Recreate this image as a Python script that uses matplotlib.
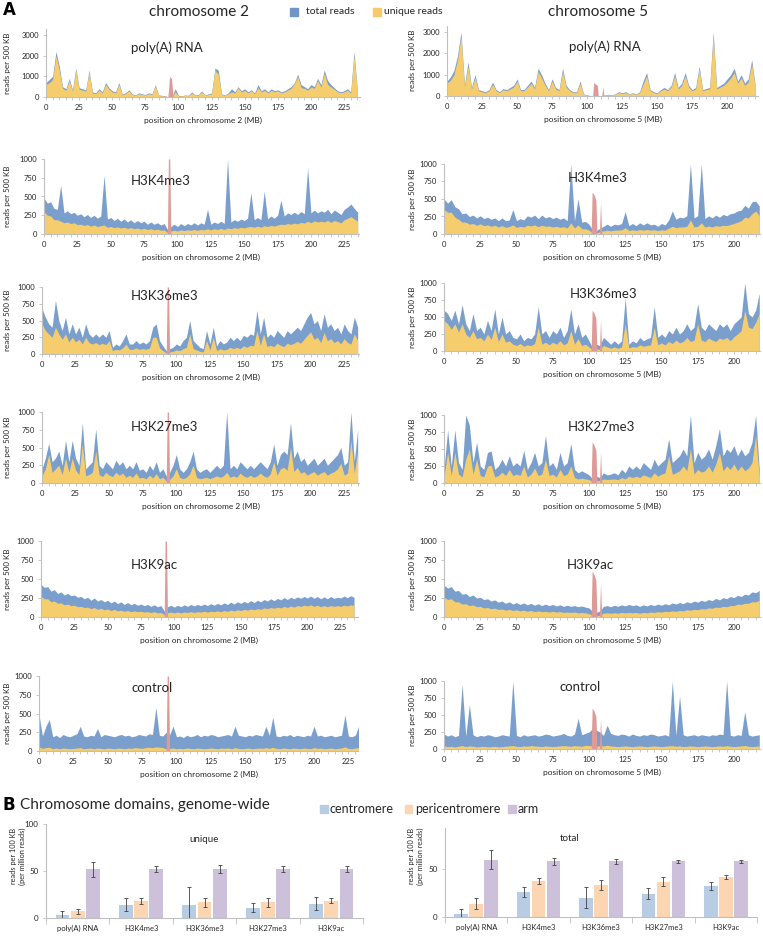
import matplotlib.pyplot as plt
from matplotlib.patches import Rectangle
import numpy as np

plt.rcParams['font.family'] = ['Lato', 'DejaVu Sans']

W, H = 763, 938
BIN = 2.5  # MB covered by each track value

BLUE = '#7b9fcc'
YELLOW = '#f6cd6c'
PINK = '#dd9a96'
CEN = '#b8cce4'
PERI = '#fcd5b2'
ARM = '#ccc0da'
AXIS = '#bfbfbf'
TXT = '#262626'

marks = ['poly(A) RNA', 'H3K4me3', 'H3K36me3', 'H3K27me3', 'H3K9ac', 'control']

# ---- chromosome 2: reads per 500 KB, one value every 2.5 MB
chr2_polya_total = [700, 850, 1000, 2200, 1500, 500, 400, 900, 350, 1400,
                    450, 400, 350, 1300, 250, 200, 400, 250, 700, 450,
                    300, 250, 700, 150, 200, 350, 150, 100, 200, 150,
                    120, 200, 150, 600, 100, 80, 60, 0, 20, 400,
                    80, 60, 100, 80, 250, 100, 120, 300, 100, 150,
                    200, 1400, 1300, 150, 100, 200, 400, 250, 500, 300,
                    400, 250, 350, 200, 600, 300, 400, 250, 400, 300,
                    350, 250, 300, 400, 500, 700, 1100, 600, 500, 400,
                    600, 500, 900, 600, 1300, 800, 600, 450, 300, 250,
                    300, 400, 250, 2200, 300]
chr2_polya_unique = [600, 700, 850, 2000, 1300, 420, 330, 800, 290, 1300,
                     380, 330, 290, 1200, 200, 160, 330, 200, 600, 380,
                     250, 200, 620, 120, 160, 300, 120, 80, 160, 120,
                     100, 160, 120, 550, 80, 60, 45, 0, 15, 250,
                     60, 45, 80, 60, 200, 80, 100, 250, 80, 120,
                     160, 1300, 1100, 120, 80, 160, 250, 200, 450, 240,
                     320, 200, 300, 160, 450, 250, 320, 200, 320, 250,
                     300, 200, 250, 330, 420, 650, 1000, 450, 420, 330,
                     480, 420, 800, 480, 1150, 620, 480, 380, 250, 200,
                     250, 330, 200, 2000, 250]
chr2_k4_total = [480, 410, 430, 340, 330, 650, 280, 310, 270, 290,
                 250, 270, 230, 260, 220, 250, 210, 240, 780, 200,
                 220, 180, 210, 170, 200, 160, 190, 150, 180, 150,
                 170, 130, 160, 130, 150, 120, 140, 60, 100, 130,
                 100, 140, 110, 140, 120, 150, 120, 150, 130, 330,
                 130, 160, 140, 170, 140, 1000, 160, 190, 170, 200,
                 180, 210, 550, 190, 220, 190, 570, 200, 240, 210,
                 250, 450, 240, 280, 260, 290, 260, 300, 270, 880,
                 280, 320, 280, 310, 290, 330, 270, 320, 290, 260,
                 330, 360, 400, 340, 290]
chr2_k4_unique = [300, 250, 240, 190, 190, 170, 150, 160, 140, 150,
                  125, 130, 115, 125, 105, 120, 100, 110, 120, 90,
                  100, 85, 95, 80, 90, 75, 85, 70, 80, 65,
                  75, 60, 70, 55, 65, 50, 55, 20, 40, 50,
                  40, 55, 45, 55, 50, 60, 50, 60, 55, 70,
                  55, 70, 60, 75, 60, 80, 70, 85, 75, 90,
                  80, 95, 100, 90, 105, 90, 110, 100, 115, 105,
                  120, 130, 125, 140, 130, 145, 135, 155, 145, 170,
                  150, 175, 160, 170, 160, 180, 155, 180, 165, 150,
                  190, 210, 230, 200, 170]
chr2_k36_total = [680, 550, 450, 400, 800, 500, 350, 550, 300, 450,
                  300, 400, 250, 450, 300, 250, 300, 250, 300, 250,
                  350, 100, 150, 120, 200, 300, 150, 150, 200, 150,
                  180, 150, 200, 400, 450, 200, 120, 50, 80, 100,
                  150, 120, 200, 250, 500, 200, 150, 100, 80, 350,
                  150, 400, 120, 200, 150, 180, 250, 200, 250, 200,
                  280, 250, 300, 280, 650, 300, 550, 250, 300, 250,
                  350, 300, 250, 350, 300, 350, 400, 350, 450, 550,
                  620, 450, 500, 350, 600, 400, 450, 350, 400, 300,
                  450, 350, 300, 550, 400]
chr2_k36_unique = [450, 350, 300, 250, 400, 300, 220, 300, 180, 250,
                   180, 220, 150, 250, 170, 150, 170, 140, 160, 140,
                   200, 50, 70, 60, 90, 150, 70, 70, 90, 70,
                   80, 70, 90, 250, 250, 90, 50, 20, 30, 40,
                   60, 50, 80, 100, 300, 80, 60, 40, 30, 200,
                   60, 250, 50, 80, 60, 70, 100, 80, 100, 80,
                   120, 100, 130, 120, 350, 130, 300, 110, 130, 110,
                   160, 130, 110, 160, 140, 160, 190, 160, 220, 280,
                   330, 220, 250, 170, 320, 200, 230, 170, 200, 150,
                   230, 170, 150, 300, 200]
chr2_k27_total = [200, 350, 560, 300, 350, 450, 250, 600, 300, 600,
                  350, 250, 850, 200, 250, 300, 760, 250, 200, 300,
                  250, 200, 320, 250, 300, 200, 250, 200, 300, 180,
                  200, 150, 250, 180, 300, 150, 200, 100, 150, 250,
                  400, 200, 150, 200, 300, 450, 200, 150, 180, 200,
                  150, 200, 250, 200, 250, 1000, 200, 250, 200, 300,
                  250, 200, 250, 200, 250, 300, 250, 200, 300, 550,
                  250, 400, 450, 400, 850, 350, 450, 300, 350, 250,
                  300, 350, 250, 300, 350, 250, 300, 350, 400, 500,
                  250, 300, 1000, 300, 750]
chr2_k27_unique = [100, 200, 400, 150, 200, 250, 120, 350, 150, 350,
                   180, 120, 550, 100, 120, 150, 450, 120, 90, 150,
                   110, 90, 150, 110, 140, 80, 110, 80, 140, 70,
                   80, 60, 110, 70, 130, 60, 80, 30, 50, 100,
                   200, 80, 60, 80, 130, 250, 80, 60, 70, 80,
                   60, 80, 100, 80, 100, 150, 80, 100, 80, 140,
                   100, 80, 110, 80, 100, 140, 100, 80, 130, 300,
                   110, 200, 220, 180, 500, 160, 220, 140, 160, 110,
                   140, 160, 110, 140, 160, 110, 140, 160, 200, 280,
                   110, 140, 600, 140, 450]
chr2_k9_total = [430, 390, 400, 340, 360, 310, 330, 290, 310, 280,
                 290, 260, 270, 240, 260, 220, 250, 210, 230, 200,
                 220, 185, 210, 175, 200, 165, 190, 160, 180, 155,
                 170, 150, 165, 140, 160, 135, 150, 80, 135, 155,
                 130, 155, 135, 160, 140, 165, 145, 165, 150, 170,
                 150, 175, 155, 180, 160, 185, 165, 195, 170, 200,
                 180, 205, 185, 215, 190, 220, 200, 230, 210, 240,
                 215, 245, 225, 255, 230, 260, 240, 265, 245, 270,
                 250, 275, 245, 270, 240, 265, 240, 270, 245, 260,
                 250, 275, 255, 280, 260]
chr2_k9_unique = [270, 240, 240, 200, 210, 180, 185, 160, 170, 150,
                  155, 135, 140, 125, 130, 110, 125, 100, 115, 95,
                  105, 85, 100, 80, 90, 75, 85, 70, 80, 70,
                  75, 65, 70, 60, 70, 55, 60, 30, 55, 65,
                  55, 65, 55, 65, 60, 70, 60, 70, 65, 75,
                  65, 75, 70, 80, 70, 85, 75, 90, 80, 95,
                  85, 100, 90, 105, 95, 110, 100, 120, 110, 125,
                  115, 130, 120, 140, 125, 145, 130, 150, 140, 155,
                  145, 160, 140, 155, 135, 150, 135, 150, 140, 150,
                  140, 155, 145, 160, 150]
chr2_ctrl_total = [480, 200, 330, 420, 190, 210, 180, 220, 200, 190,
                   210, 230, 330, 200, 190, 210, 200, 300, 190, 220,
                   210, 200, 190, 210, 220, 200, 210, 190, 200, 220,
                   210, 200, 230, 220, 580, 210, 200, 250, 220, 330,
                   190, 200, 180, 210, 190, 200, 220, 190, 210, 200,
                   220, 210, 190, 200, 210, 220, 200, 330, 210, 200,
                   190, 210, 200, 220, 210, 200, 330, 210, 450, 200,
                   190, 210, 200, 220, 190, 210, 200, 190, 210, 200,
                   330, 200, 210, 190, 200, 210, 190, 200, 210, 480,
                   200, 190, 210, 330, 190]
chr2_ctrl_unique = [55, 35, 45, 50, 30, 40, 30, 40, 35, 30,
                    35, 40, 45, 30, 35, 40, 30, 40, 35, 30,
                    40, 35, 30, 40, 35, 30, 40, 35, 45, 40,
                    35, 45, 50, 45, 55, 50, 45, 30, 35, 40,
                    30, 35, 30, 40, 35, 30, 40, 35, 30, 35,
                    40, 35, 30, 40, 35, 40, 30, 45, 35, 30,
                    35, 40, 30, 35, 40, 35, 45, 35, 50, 35,
                    30, 40, 35, 30, 40, 35, 30, 40, 35, 30,
                    45, 35, 40, 30, 35, 40, 30, 35, 40, 55,
                    35, 30, 40, 45, 30]

# ---- chromosome 5: reads per 500 KB, one value every 2.5 MB
chr5_polya_total = [700, 900, 1200, 1900, 3000, 500, 1600, 400, 1000, 300,
                    250, 200, 300, 650, 300, 200, 350, 300, 400, 500,
                    800, 300, 300, 500, 700, 400, 1300, 1000, 600, 300,
                    800, 400, 300, 1300, 500, 300, 200, 200, 700, 100,
                    50, 20, 10, 10, 20, 50, 80, 50, 100, 200,
                    150, 200, 100, 150, 100, 200, 700, 1100, 300, 200,
                    150, 300, 400, 300, 500, 1100, 400, 600, 1100, 500,
                    300, 400, 1400, 300, 350, 400, 3000, 400, 500, 600,
                    800, 1000, 1300, 700, 1000, 600, 800, 1700, 500]
chr5_polya_unique = [600, 750, 1000, 1700, 2800, 420, 1400, 330, 850, 250,
                     200, 160, 250, 550, 250, 160, 300, 250, 330, 420,
                     700, 250, 250, 420, 600, 330, 1150, 850, 500, 250,
                     700, 330, 250, 1150, 420, 250, 160, 160, 600, 80,
                     40, 15, 5, 5, 15, 40, 60, 40, 80, 160,
                     120, 160, 80, 120, 80, 160, 550, 950, 250, 160,
                     120, 250, 330, 250, 420, 950, 330, 500, 950, 420,
                     250, 330, 1250, 250, 300, 330, 2800, 330, 420, 500,
                     650, 850, 1100, 600, 850, 500, 650, 1500, 420]
chr5_k4_total = [500, 440, 490, 390, 360, 290, 300, 250, 270, 230,
                 260, 220, 240, 210, 230, 190, 230, 190, 200, 350,
                 190, 220, 200, 260, 240, 270, 220, 270, 230, 250,
                 220, 240, 210, 230, 190, 1000, 190, 500, 170, 180,
                 140, 60, 50, 80, 110, 140, 110, 140, 130, 150,
                 320, 120, 150, 120, 160, 130, 160, 130, 140, 110,
                 150, 130, 200, 330, 210, 240, 230, 260, 1000, 230,
                 260, 1000, 220, 260, 230, 270, 240, 280, 260, 290,
                 300, 330, 340, 410, 370, 460, 470, 400]
chr5_k4_unique = [350, 310, 310, 240, 210, 170, 170, 140, 150, 125,
                  145, 120, 130, 110, 125, 100, 120, 95, 105, 130,
                  95, 110, 100, 125, 115, 130, 105, 125, 110, 115,
                  100, 110, 95, 105, 85, 160, 85, 130, 75, 75,
                  55, 20, 15, 30, 45, 55, 45, 55, 55, 60,
                  90, 50, 60, 50, 65, 55, 65, 55, 60, 50,
                  60, 55, 85, 110, 90, 100, 100, 110, 200, 100,
                  110, 160, 100, 115, 100, 120, 110, 125, 120, 135,
                  150, 170, 190, 240, 230, 290, 330, 260]
chr5_k36_total = [600, 550, 450, 600, 400, 680, 400, 300, 550, 300,
                  350, 250, 450, 300, 620, 250, 500, 250, 300, 200,
                  180, 250, 150, 200, 180, 250, 650, 250, 300, 200,
                  300, 250, 350, 200, 300, 620, 250, 400, 200, 250,
                  150, 50, 100, 80, 200, 150, 100, 150, 100, 150,
                  780, 100, 150, 120, 200, 150, 180, 200, 650, 200,
                  250, 200, 300, 250, 350, 250, 300, 400, 300, 350,
                  700, 350, 300, 400, 350, 300, 400, 350, 400, 300,
                  400, 450, 500, 1000, 550, 500, 600, 850]
chr5_k36_unique = [450, 400, 320, 400, 280, 400, 250, 200, 300, 180,
                   200, 150, 250, 170, 350, 140, 250, 130, 150, 100,
                   80, 110, 70, 90, 80, 110, 350, 100, 130, 90,
                   130, 100, 150, 90, 120, 300, 100, 180, 80, 100,
                   60, 15, 30, 25, 80, 60, 40, 60, 40, 60,
                   400, 45, 65, 55, 90, 70, 80, 90, 350, 90,
                   120, 90, 140, 110, 160, 120, 140, 200, 140, 160,
                   400, 160, 140, 190, 160, 140, 190, 170, 200, 150,
                   210, 250, 300, 600, 350, 330, 420, 550]
chr5_k27_total = [200, 780, 250, 780, 300, 200, 1000, 850, 300, 600,
                  250, 200, 450, 470, 200, 250, 350, 250, 400, 250,
                  300, 250, 480, 200, 300, 450, 250, 300, 700, 250,
                  300, 200, 450, 250, 300, 580, 200, 150, 180, 150,
                  120, 60, 100, 80, 150, 120, 130, 150, 120, 200,
                  150, 250, 200, 250, 200, 300, 250, 200, 350, 250,
                  300, 350, 650, 300, 350, 400, 500, 400, 1000, 300,
                  450, 350, 400, 500, 350, 550, 800, 400, 500, 450,
                  550, 400, 500, 400, 450, 600, 1000, 200]
chr5_k27_unique = [90, 450, 110, 450, 130, 90, 350, 500, 130, 350,
                   110, 90, 250, 260, 90, 110, 160, 110, 200, 110,
                   130, 110, 250, 90, 130, 220, 110, 130, 350, 110,
                   130, 90, 200, 110, 130, 250, 80, 60, 70, 60,
                   50, 20, 40, 30, 60, 50, 55, 60, 50, 80,
                   60, 100, 80, 100, 80, 120, 100, 80, 150, 100,
                   130, 150, 400, 130, 150, 180, 250, 180, 500, 130,
                   200, 160, 180, 250, 160, 280, 450, 180, 250, 200,
                   280, 180, 250, 180, 220, 300, 700, 90]
chr5_k9_total = [420, 380, 400, 340, 350, 300, 310, 270, 290, 250,
                 260, 230, 240, 210, 225, 195, 210, 180, 200, 170,
                 190, 165, 185, 160, 180, 155, 175, 150, 170, 150,
                 165, 145, 160, 140, 155, 140, 150, 135, 145, 130,
                 120, 70, 60, 80, 140, 150, 135, 155, 140, 160,
                 145, 165, 150, 160, 140, 160, 145, 165, 150, 170,
                 155, 175, 160, 185, 170, 190, 175, 200, 185, 210,
                 195, 220, 205, 230, 215, 245, 225, 255, 240, 270,
                 255, 285, 270, 300, 290, 330, 320, 350]
chr5_k9_unique = [260, 230, 240, 200, 200, 170, 175, 150, 160, 135,
                  140, 120, 125, 110, 115, 100, 105, 90, 100, 85,
                  95, 80, 90, 75, 85, 70, 80, 70, 75, 65,
                  75, 65, 70, 60, 65, 60, 65, 55, 60, 55,
                  45, 20, 15, 25, 50, 55, 50, 55, 50, 60,
                  55, 60, 55, 60, 50, 60, 55, 65, 60, 70,
                  65, 75, 70, 80, 75, 85, 80, 95, 90, 100,
                  95, 110, 105, 120, 115, 130, 125, 140, 135, 150,
                  150, 170, 165, 180, 180, 200, 200, 220]
chr5_ctrl_total = [220, 190, 210, 180, 200, 950, 190, 650, 210, 180,
                   200, 190, 210, 200, 180, 190, 210, 200, 190, 1000,
                   200, 180, 210, 190, 200, 210, 190, 200, 220, 210,
                   190, 200, 210, 230, 200, 190, 220, 450, 210, 230,
                   250, 300, 280, 250, 200, 350, 230, 210, 200, 220,
                   210, 190, 220, 200, 190, 210, 200, 220, 210, 190,
                   200, 210, 190, 1000, 200, 780, 210, 190, 200, 210,
                   190, 210, 200, 190, 210, 200, 220, 210, 1000, 200,
                   190, 210, 200, 550, 210, 190, 200, 210]
chr5_ctrl_unique = [45, 35, 40, 30, 40, 50, 35, 45, 40, 30,
                    35, 40, 30, 35, 40, 30, 35, 40, 45, 50,
                    40, 35, 45, 40, 50, 45, 40, 35, 45, 40,
                    35, 40, 45, 50, 45, 40, 50, 45, 40, 55,
                    50, 45, 40, 50, 45, 55, 45, 40, 35, 40,
                    45, 40, 35, 40, 45, 40, 35, 40, 45, 40,
                    35, 40, 45, 50, 40, 45, 35, 40, 45, 40,
                    35, 40, 45, 40, 35, 40, 45, 40, 50, 40,
                    35, 40, 45, 50, 40, 35, 40, 45]

# centromere reads (pink), position in MB and reads per 500 KB
chr2_cen_polya_x = [92.0, 93.3, 94.7, 96.0]
chr2_cen_polya = [0, 1000, 900, 0]
chr2_cen_x = [92.5, 93.2, 94.2, 95.0]
chr2_cen_chip = [0, 1000, 1000, 0]
chr5_cen_polya_x = [104.0, 104.7, 106.0, 107.3, 108.0, 110.5, 111.2, 112.0]
chr5_cen_polya = [0, 620, 560, 500, 0, 0, 450, 0]
chr5_cen_x = [101.5, 102.2, 103.5, 104.8, 105.5, 107.2, 108.0, 108.8]
chr5_cen_chip = [0, 600, 560, 480, 0, 0, 450, 0]

# ---- panel B: reads per 100 KB (per million reads)
bar_cats = ['poly(A) RNA', 'H3K4me3', 'H3K36me3', 'H3K27me3', 'H3K9ac']
domains = ['centromere', 'pericentromere', 'arm']
uniq_cen = [3.5, 14, 14, 11, 15]
uniq_cen_err = [4, 7, 19, 5, 7]
uniq_peri = [7, 18, 16.5, 16.5, 18.5]
uniq_peri_err = [3, 3, 5, 5, 3]
uniq_arm = [52, 52, 52, 52, 52]
uniq_arm_err = [8, 3, 4, 3, 3]
tot_cen = [3.5, 26, 20, 24.5, 32.5]
tot_cen_err = [5, 5, 11, 6, 4]
tot_peri = [14, 37.5, 33.5, 37, 42]
tot_peri_err = [6, 3, 5, 5, 2]
tot_arm = [60, 58, 58, 58, 58]
tot_arm_err = [10, 3.5, 3, 2, 2]

fig = plt.figure(figsize=(W / 100, H / 100), dpi=100)


def px_box(l, t, r, b):
    return [l / W, 1 - b / H, (r - l) / W, (b - t) / H]


def ftext(x, y, s, **kw):
    fig.text(x / W, 1 - y / H, s, **kw)


def square(x, y, s, color):
    fig.add_artist(Rectangle((x / W, 1 - (y + s / 2) / H), s / W, s / H,
                             color=color, transform=fig.transFigure))


def style_axes(ax):
    for s in ['top', 'right']:
        ax.spines[s].set_visible(False)
    for s in ['left', 'bottom']:
        ax.spines[s].set_color(AXIS)
        ax.spines[s].set_linewidth(0.8)
    ax.patch.set_alpha(0)


def draw_track(box, xmax, ymax, yticks, total, unique, cen_x, cen_y, chrom,
               title, title_xy, ylab_x):
    ax = fig.add_axes(px_box(*box))
    x = np.arange(len(total)) * BIN
    ax.fill_between(x, total, color=BLUE, lw=0)
    ax.fill_between(x, unique, color=YELLOW, lw=0)
    ax.fill_between(cen_x, cen_y, color=PINK, lw=0)
    ax.set_xlim(0, xmax)
    ax.set_ylim(0, ymax)
    ax.set_xticks(range(0, int(xmax) + 1, 25))
    ax.set_xticks(range(0, int(xmax) + 1, 5), minor=True)
    ax.set_yticks(yticks)
    style_axes(ax)
    ax.tick_params(which='both', colors=AXIS, labelcolor=TXT, labelsize=5.5,
                   length=2.5, width=0.6, pad=2.5)
    ax.tick_params(which='minor', length=2)
    ax.set_xlabel(f'position on chromosome {chrom} (MB)', fontsize=6,
                  color=TXT, labelpad=4)
    ftext(*title_xy, title, fontsize=9.5, color=TXT, ha='left', va='center')
    ftext(ylab_x, (box[1] + box[3]) / 2, 'reads per 500 KB', fontsize=5.8,
          color=TXT, rotation=90, ha='center', va='center')


# pixel boxes (left, top, right, bottom) of each track row
left_boxes = [(46, 28.8, 360, 97), (44, 159, 359, 234), (42, 287, 359, 354),
              (42, 412, 359, 483), (41, 541, 358, 617), (39, 676, 358, 751)]
left_xmax = [237, 236, 236, 236, 238, 232]
right_boxes = [(447, 25.6, 758, 96), (444, 164, 760, 234), (444, 283, 760, 351),
               (444, 415, 760, 483), (444, 541, 760, 617), (444, 681, 760, 749)]
right_xmax = [222, 218, 218, 218, 218, 218]
left_title = [(131, 48), (131, 181), (131, 296), (131, 427), (131, 565), (131, 688)]
right_title = [(569, 47), (568, 178), (570, 294), (568, 427), (567, 565), (560, 687)]

chr2_tracks = [(chr2_polya_total, chr2_polya_unique), (chr2_k4_total, chr2_k4_unique),
               (chr2_k36_total, chr2_k36_unique), (chr2_k27_total, chr2_k27_unique),
               (chr2_k9_total, chr2_k9_unique), (chr2_ctrl_total, chr2_ctrl_unique)]
chr5_tracks = [(chr5_polya_total, chr5_polya_unique), (chr5_k4_total, chr5_k4_unique),
               (chr5_k36_total, chr5_k36_unique), (chr5_k27_total, chr5_k27_unique),
               (chr5_k9_total, chr5_k9_unique), (chr5_ctrl_total, chr5_ctrl_unique)]

for i, mark in enumerate(marks):
    if i == 0:
        ymax, yticks = 3300, [0, 1000, 2000, 3000]
        c2 = (chr2_cen_polya_x, chr2_cen_polya)
        c5 = (chr5_cen_polya_x, chr5_cen_polya)
    else:
        ymax, yticks = 1000, [0, 250, 500, 750, 1000]
        c2 = (chr2_cen_x, chr2_cen_chip)
        c5 = (chr5_cen_x, chr5_cen_chip)
    draw_track(left_boxes[i], left_xmax[i], ymax, yticks, *chr2_tracks[i], *c2,
               2, mark, left_title[i], 8)
    draw_track(right_boxes[i], right_xmax[i], ymax, yticks, *chr5_tracks[i], *c5,
               5, mark, right_title[i], 413)

# panel A header
ftext(3, 10, 'A', fontsize=12, fontweight='bold', va='center', family='DejaVu Sans')
ftext(199, 12, 'chromosome 2', fontsize=11, color=TXT, ha='center', va='center')
ftext(598, 12, 'chromosome 5', fontsize=11, color=TXT, ha='center', va='center')
square(290, 12, 7.5, '#6f95c5')
ftext(306, 12, 'total reads', fontsize=7.5, color=TXT, va='center')
square(373, 12, 7.5, '#f7c96a')
ftext(384, 12, 'unique reads', fontsize=7.5, color=TXT, va='center')


def draw_bars(box, ymax, yticks, series, note, note_xy, ylab_x):
    ax = fig.add_axes(px_box(*box))
    pos = np.arange(len(bar_cats))
    offsets = [-0.24, 0, 0.24]
    colors = [CEN, PERI, ARM]
    for off, (vals, errs), col in zip(offsets, series, colors):
        ax.bar(pos + off, vals, 0.22, yerr=errs, color=col, ecolor='#404040',
               capsize=1.5, error_kw=dict(elinewidth=0.6, capthick=0.6))
    ax.set_xlim(-0.5, len(bar_cats) - 0.5)
    ax.set_ylim(0, ymax)
    ax.set_yticks(yticks)
    ax.set_xticks(pos, bar_cats)
    ax.set_xticks(np.arange(len(bar_cats) + 1) - 0.5, minor=True)
    style_axes(ax)
    ax.tick_params(axis='x', which='major', length=0, labelsize=5.5,
                   labelcolor=TXT, pad=5)
    ax.tick_params(axis='x', which='minor', length=4, color=AXIS, width=0.6)
    ax.tick_params(axis='y', colors=AXIS, labelcolor=TXT, labelsize=5.8,
                   length=2.5, width=0.6, pad=3)
    ax.text(*note_xy, note, transform=ax.transAxes, fontsize=7, color=TXT,
            ha='center', va='center')
    ftext(ylab_x, 856, 'reads per 100 KB\n(per million reads)', fontsize=5.3,
          color=TXT, rotation=90, ha='center', va='center', linespacing=1.2)


draw_bars((46, 824, 363, 918), 100, [0, 50, 100],
          [(uniq_cen, uniq_cen_err), (uniq_peri, uniq_peri_err), (uniq_arm, uniq_arm_err)],
          'unique', (0.5, 0.83), 18)
draw_bars((445, 828, 757, 917), 93, [0, 50],
          [(tot_cen, tot_cen_err), (tot_peri, tot_peri_err), (tot_arm, tot_arm_err)],
          'total', (0.4, 0.88), 416)

# panel B header and legend
ftext(3, 805, 'B', fontsize=12, fontweight='bold', va='center', family='DejaVu Sans')
ftext(20, 805, 'Chromosome domains, genome-wide', fontsize=11, color=TXT, va='center')
for (sx, tx), name, col in zip([(320, 330), (405, 415), (508, 518)], domains,
                               [CEN, PERI, ARM]):
    square(sx, 809, 7.5, col)
    ftext(tx, 809, name, fontsize=9, color=TXT, va='center')

fig.savefig('out.png', dpi=100)
